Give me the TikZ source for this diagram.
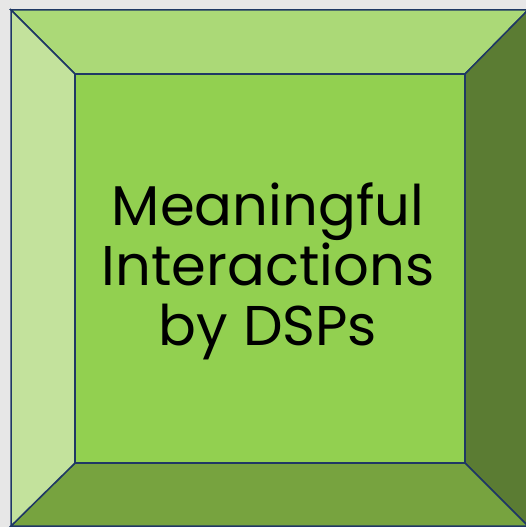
\documentclass[tikz,border=0pt]{standalone}
\usepackage{fontspec}
\setmainfont{Poppins}
\definecolor{bg}{HTML}{E7E7E7}
\definecolor{edge}{HTML}{1F3864}
\definecolor{faceL}{HTML}{C3E29C}
\definecolor{faceT}{HTML}{ABD977}
\definecolor{faceC}{HTML}{92D050}
\definecolor{faceR}{HTML}{5B7C33}
\definecolor{faceB}{HTML}{77A33F}
\tikzset{face/.style={draw=edge, line width=1.5pt, line join=miter}}
\begin{document}
\begin{tikzpicture}[x=1pt,y=-1pt]
\fill[bg] (0,0) rectangle (526,527);
\useasboundingbox (0,0) rectangle (526,527);
\begin{scope}
\clip (0,0) rectangle (526,527);
\coordinate (o1) at (11,10);
\coordinate (o2) at (528,10);
\coordinate (o3) at (528,526);
\coordinate (o4) at (11,526);
\coordinate (i1) at (75,74);
\coordinate (i2) at (465,74);
\coordinate (i3) at (465,463);
\coordinate (i4) at (75,463);
\filldraw[face, fill=faceT] (o1) -- (o2) -- (i2) -- (i1) -- cycle;
\filldraw[face, fill=faceR] (o2) -- (o3) -- (i3) -- (i2) -- cycle;
\filldraw[face, fill=faceB] (o3) -- (o4) -- (i4) -- (i3) -- cycle;
\filldraw[face, fill=faceL] (o4) -- (o1) -- (i1) -- (i4) -- cycle;
\filldraw[face, fill=faceC] (i1) rectangle (i3);
\end{scope}
\node[align=center, font=\fontsize{56}{60}\selectfont, text=black, inner sep=0pt] (t) at (268,271) {Meaningful\\Interactions\\by DSPs};
\end{tikzpicture}
\end{document}
